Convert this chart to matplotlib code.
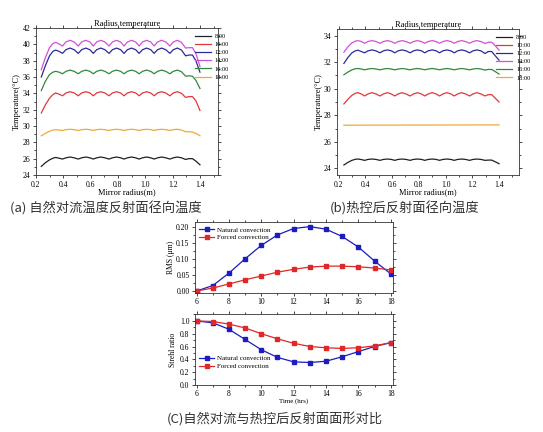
import matplotlib
matplotlib.use("Agg")
import matplotlib.pyplot as plt
from matplotlib.ticker import MultipleLocator

# radial sample positions (m)
radius = [0.24, 0.27, 0.30, 0.325, 0.345, 0.37, 0.395, 0.42, 0.45, 0.48, 0.51,
          0.535, 0.565, 0.595, 0.62, 0.645, 0.675, 0.705, 0.735, 0.76, 0.79,
          0.82, 0.845, 0.87, 0.90, 0.93, 0.955, 0.98, 1.01, 1.04, 1.065, 1.09,
          1.12, 1.15, 1.18, 1.205, 1.235, 1.265, 1.295, 1.32, 1.345, 1.37, 1.40]

hours = ["8:00", "10:00", "12:00", "14:00", "16:00", "18:00"]
line_colors = ["#202020", "#e03838", "#2a2a9a", "#d050d8", "#2f8a3a", "#f0a838"]

# (a) natural convection
nat_0800 = [25.05, 25.5, 25.85, 26.05, 26.15, 26.05,
            25.95, 26.1, 26.2, 26.1, 25.95, 26.1, 26.2, 26.1, 25.95, 26.1, 26.2, 26.1,
            25.95, 26.1, 26.2, 26.1, 25.95, 26.1, 26.2, 26.1, 25.95, 26.1, 26.2, 26.1,
            25.95, 26.1, 26.2, 26.1, 25.95, 26.1, 26.2, 26.1,
            25.9, 26.0, 26.0, 25.7, 25.25]
nat_1000 = [31.6, 32.6, 33.4, 33.85, 34.05, 33.9,
            33.7, 34.05, 34.2, 34.05, 33.7, 34.05, 34.2, 34.05, 33.7, 34.05, 34.2, 34.05,
            33.7, 34.05, 34.2, 34.05, 33.7, 34.05, 34.2, 34.05, 33.7, 34.05, 34.2, 34.05,
            33.7, 34.05, 34.2, 34.05, 33.7, 34.05, 34.2, 34.0,
            33.5, 33.6, 33.6, 33.1, 31.9]
nat_1200 = [36.0, 37.4, 38.6, 39.15, 39.3, 39.15,
            38.9, 39.35, 39.55, 39.35, 38.9, 39.35, 39.55, 39.35, 38.9, 39.35, 39.55, 39.35,
            38.9, 39.35, 39.55, 39.35, 38.9, 39.35, 39.55, 39.35, 38.9, 39.35, 39.55, 39.35,
            38.9, 39.35, 39.55, 39.35, 38.9, 39.35, 39.55, 39.3,
            38.6, 38.7, 38.7, 38.0, 36.6]
nat_1400 = [36.9, 38.4, 39.6, 40.1, 40.25, 40.05,
            39.8, 40.3, 40.5, 40.3, 39.8, 40.3, 40.5, 40.3, 39.8, 40.3, 40.5, 40.3,
            39.8, 40.3, 40.5, 40.3, 39.8, 40.3, 40.5, 40.3, 39.8, 40.3, 40.5, 40.3,
            39.8, 40.3, 40.5, 40.3, 39.8, 40.3, 40.5, 40.25,
            39.55, 39.6, 39.6, 38.9, 37.3]
nat_1600 = [34.35, 35.5, 36.3, 36.6, 36.7, 36.6,
            36.4, 36.7, 36.85, 36.7, 36.4, 36.7, 36.85, 36.7, 36.4, 36.7, 36.85, 36.7,
            36.4, 36.7, 36.85, 36.7, 36.4, 36.7, 36.85, 36.7, 36.4, 36.7, 36.85, 36.7,
            36.4, 36.7, 36.85, 36.7, 36.4, 36.7, 36.85, 36.65,
            36.1, 36.15, 36.1, 35.6, 34.6]
nat_1800 = [28.8, 29.1, 29.35, 29.5, 29.55, 29.5,
            29.45, 29.55, 29.6, 29.55, 29.45, 29.55, 29.6, 29.55, 29.45, 29.55, 29.6, 29.55,
            29.45, 29.55, 29.6, 29.55, 29.45, 29.55, 29.6, 29.55, 29.45, 29.55, 29.6, 29.55,
            29.45, 29.55, 29.6, 29.55, 29.45, 29.55, 29.6, 29.5,
            29.3, 29.3, 29.25, 29.1, 28.8]

# (b) after thermal control
ctl_0800 = [24.25, 24.45, 24.6, 24.68, 24.7, 24.66,
            24.6, 24.67, 24.7, 24.67, 24.6, 24.67, 24.7, 24.67, 24.6, 24.67, 24.7, 24.67,
            24.6, 24.67, 24.7, 24.67, 24.6, 24.67, 24.7, 24.67, 24.6, 24.67, 24.7, 24.67,
            24.6, 24.67, 24.7, 24.67, 24.6, 24.67, 24.7, 24.67,
            24.6, 24.62, 24.62, 24.5, 24.35]
ctl_1000 = [28.85, 29.2, 29.5, 29.65, 29.7, 29.6,
            29.45, 29.6, 29.7, 29.6, 29.45, 29.6, 29.7, 29.6, 29.45, 29.6, 29.7, 29.6,
            29.45, 29.6, 29.7, 29.6, 29.45, 29.6, 29.7, 29.6, 29.45, 29.6, 29.7, 29.6,
            29.45, 29.6, 29.7, 29.6, 29.45, 29.6, 29.7, 29.6,
            29.45, 29.55, 29.55, 29.3, 29.0]
ctl_1200 = [31.9, 32.35, 32.7, 32.85, 32.9, 32.8,
            32.7, 32.85, 32.92, 32.85, 32.7, 32.85, 32.92, 32.85, 32.7, 32.85, 32.92, 32.85,
            32.7, 32.85, 32.92, 32.85, 32.7, 32.85, 32.92, 32.85, 32.7, 32.85, 32.92, 32.85,
            32.7, 32.85, 32.92, 32.85, 32.7, 32.85, 32.92, 32.85,
            32.65, 32.8, 32.8, 32.5, 32.15]
ctl_1400 = [32.75, 33.15, 33.45, 33.58, 33.62, 33.55,
            33.42, 33.55, 33.62, 33.55, 33.42, 33.55, 33.62, 33.55, 33.42, 33.55, 33.62, 33.55,
            33.42, 33.55, 33.62, 33.55, 33.42, 33.55, 33.62, 33.55, 33.42, 33.55, 33.62, 33.55,
            33.42, 33.55, 33.62, 33.55, 33.42, 33.55, 33.62, 33.55,
            33.4, 33.5, 33.5, 33.25, 32.9]
ctl_1600 = [31.05, 31.25, 31.42, 31.5, 31.52, 31.48,
            31.42, 31.48, 31.52, 31.48, 31.42, 31.48, 31.52, 31.48, 31.42, 31.48, 31.52, 31.48,
            31.42, 31.48, 31.52, 31.48, 31.42, 31.48, 31.52, 31.48, 31.42, 31.48, 31.52, 31.48,
            31.42, 31.48, 31.52, 31.48, 31.42, 31.48, 31.52, 31.48,
            31.4, 31.45, 31.45, 31.3, 31.1]
ctl_1800_x = [0.24, 1.40]
ctl_1800 = [27.25, 27.27]

# (c) surface figure vs time
time_hrs = [6, 7, 8, 9, 10, 11, 12, 13, 14, 15, 16, 17, 18]
rms_natural = [0.0, 0.017, 0.056, 0.101, 0.143, 0.176, 0.196, 0.202, 0.194, 0.171, 0.138, 0.094, 0.054]
rms_forced = [0.0, 0.009, 0.022, 0.035, 0.047, 0.059, 0.068, 0.075, 0.078, 0.078, 0.076, 0.072, 0.066]
strehl_natural = [1.0, 0.97, 0.87, 0.71, 0.55, 0.43, 0.36, 0.35, 0.37, 0.44, 0.52, 0.60, 0.66]
strehl_forced = [1.0, 0.99, 0.95, 0.89, 0.80, 0.72, 0.65, 0.60, 0.58, 0.57, 0.58, 0.61, 0.66]

captions = ["(a) 自然对流温度反射面径向温度", "(b)热控后反射面径向温度", "(C)自然对流与热控后反射面面形对比"]

plt.rcParams["font.family"] = ["Liberation Serif", "DejaVu Serif"]
plt.rcParams["axes.linewidth"] = 0.6
cjk = ["Noto Sans CJK SC", "DejaVu Sans"]


def style_axes(ax):
    ax.tick_params(which="both", direction="out", top=True, right=True,
                   labelsize=5.5, width=0.5, pad=1.5)
    ax.tick_params(which="major", length=2.5)
    ax.tick_params(which="minor", length=1.5)
    for s in ax.spines.values():
        s.set_color("#333333")


fig = plt.figure(figsize=(5.43, 4.32), dpi=100)

ax_a = fig.add_axes([0.066, 0.595, 0.335, 0.340])
ax_b = fig.add_axes([0.621, 0.595, 0.335, 0.338])

for ax, curves, ylim in [
    (ax_a, [nat_0800, nat_1000, nat_1200, nat_1400, nat_1600, nat_1800], (24, 42)),
    (ax_b, [ctl_0800, ctl_1000, ctl_1200, ctl_1400, ctl_1600, None], (23.5, 34.5)),
]:
    for lbl, col, y in zip(hours, line_colors, curves):
        if y is None:
            ax.plot(ctl_1800_x, ctl_1800, color=col, lw=0.9, label=lbl)
        else:
            ax.plot(radius, y, color=col, lw=0.9, label=lbl)
    ax.set_xlim(0.19, 1.55)
    ax.set_ylim(*ylim)
    ax.xaxis.set_major_locator(MultipleLocator(0.2))
    ax.xaxis.set_minor_locator(MultipleLocator(0.1))
    ax.yaxis.set_major_locator(MultipleLocator(2))
    ax.yaxis.set_minor_locator(MultipleLocator(1))
    style_axes(ax)
    ax.set_title("Radius temperature", fontsize=6, pad=1.5)
    ax.set_xlabel("Mirror radius(m)", fontsize=6, labelpad=0)
    ax.set_ylabel("Temperature(°C)", fontsize=6, labelpad=1)
    ax.legend(loc="upper left", bbox_to_anchor=(0.86, 0.98), frameon=False,
              fontsize=4.5, handlelength=2.6, handletextpad=0.6,
              labelspacing=0.45, borderaxespad=0)

ax_a.set_xlim(0.2, 1.53)

ax_r = fig.add_axes([0.359, 0.322, 0.365, 0.163])
ax_s = fig.add_axes([0.359, 0.109, 0.365, 0.163])

ax_r.plot(time_hrs, rms_natural, color="#1c1cc0", lw=0.9, marker="s", ms=2.2, label="Natural convection")
ax_r.plot(time_hrs, rms_forced, color="#e02828", lw=0.9, marker="s", ms=2.2, label="Forced convection")
ax_r.set_ylim(-0.006, 0.215)
ax_r.yaxis.set_major_locator(MultipleLocator(0.05))
ax_r.yaxis.set_minor_locator(MultipleLocator(0.025))
ax_r.yaxis.set_major_formatter(lambda v, p: f"{v:.2f}")
ax_r.set_ylabel("RMS (μm)", fontsize=5.5, labelpad=1, family=["Liberation Serif", "DejaVu Sans"])
ax_r.legend(loc="upper left", frameon=False, fontsize=5, handlelength=2.2,
            handletextpad=0.4, labelspacing=0.3, borderaxespad=0.2)

ax_s.plot(time_hrs, strehl_natural, color="#1c1cc0", lw=0.9, marker="s", ms=2.2, label="Natural convection")
ax_s.plot(time_hrs, strehl_forced, color="#e02828", lw=0.9, marker="s", ms=2.2, label="Forced convection")
ax_s.set_ylim(0, 1.1)
ax_s.yaxis.set_major_locator(MultipleLocator(0.2))
ax_s.yaxis.set_minor_locator(MultipleLocator(0.1))
ax_s.set_ylabel("Strehl ratio", fontsize=5.5, labelpad=2)
ax_s.set_xlabel("Time (hrs)", fontsize=5, labelpad=0)
ax_s.legend(loc="upper left", bbox_to_anchor=(0.0, 0.48), frameon=False, fontsize=5,
            handlelength=2.2, handletextpad=0.4, labelspacing=0.3, borderaxespad=0.2)

for ax in (ax_r, ax_s):
    ax.set_xlim(5.9, 18.15)
    ax.xaxis.set_major_locator(MultipleLocator(2))
    ax.xaxis.set_minor_locator(MultipleLocator(1))
    style_axes(ax)

fig.text(0.018, 0.518, captions[0], fontsize=9.5, family=cjk, color="#333333", va="center")
fig.text(0.608, 0.518, captions[1], fontsize=9.5, family=cjk, color="#333333", va="center")
fig.text(0.507, 0.028, captions[2], fontsize=9.5, family=cjk, color="#333333", va="center", ha="center")

fig.savefig("out.png", dpi=100)
